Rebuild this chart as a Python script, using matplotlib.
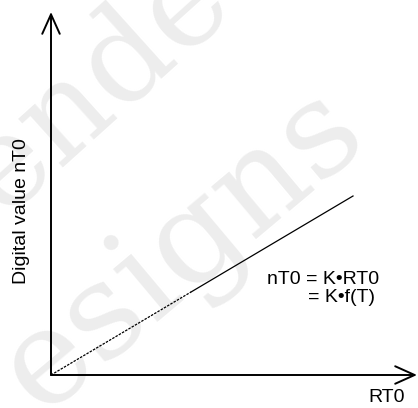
import numpy as np
import matplotlib
matplotlib.use('Agg')
import matplotlib.pyplot as plt

# transfer line nT0 = K * RT0 (plot units)
rt0 = np.array([0.0, 140.0, 302.0])
K = 0.5927
nt0 = K * rt0

x_label = 'RT0'
y_label = 'Digital value nT0'
eq_lines = ['nT0 = K\u2022RT0', '= K\u2022f(T)']


def main():
    plt.rcParams['font.family'] = ['Liberation Sans', 'DejaVu Sans']
    fig = plt.figure(figsize=(4.18, 4.08), dpi=100)
    ax = fig.add_axes([0, 0, 1, 1])
    ax.set_xlim(-51, 367)
    ax.set_ylim(-33, 375)
    ax.axis('off')

    # faint background lettering, kept under everything else
    ax.text(45, 290, 'ende', family='DejaVu Serif', fontsize=92,
            color='#ededed', rotation=42, ha='center', va='center',
            zorder=0, clip_on=True)
    ax.text(132, 125, 'esigns', family='DejaVu Serif', fontsize=96,
            color='#ededed', rotation=40, ha='center', va='center',
            zorder=0, clip_on=True)

    # axes with open arrow heads
    arrow = dict(arrowstyle='->,head_length=1.0,head_width=0.45', lw=1.4,
                 color='black', shrinkA=0, shrinkB=0, mutation_scale=14)
    ax.annotate('', xy=(0, 363), xytext=(0, 0), arrowprops=arrow, zorder=3)
    ax.annotate('', xy=(366, 0), xytext=(0, 0), arrowprops=arrow, zorder=3)

    # dashed start, solid remainder
    ax.plot(rt0[:2], nt0[:2], color='black', lw=0.9, ls=(0, (2.0, 1.0)),
            zorder=3)
    ax.plot(rt0[1:], nt0[1:], color='black', lw=0.9, zorder=3)

    ax.text(216, 90.5, eq_lines[0], fontsize=14, ha='left', va='baseline',
            zorder=4)
    ax.text(324, 73, eq_lines[1], fontsize=14, ha='right', va='baseline',
            zorder=4)

    ax.text(354, -27, x_label, fontsize=14, ha='right', va='baseline',
            zorder=4)
    ax.text(-29, 164, y_label, fontsize=14, rotation=90,
            ha='center', va='center', zorder=4)

    fig.savefig('out.png', dpi=100)


if __name__ == '__main__':
    main()
